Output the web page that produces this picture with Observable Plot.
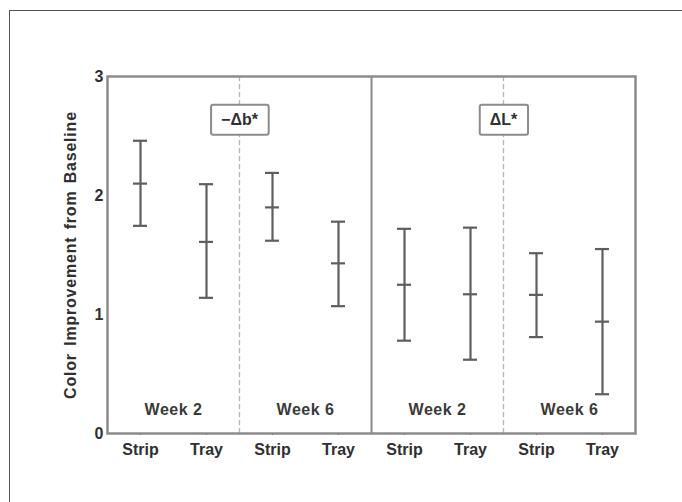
<!DOCTYPE html>
<html>
<head>
<meta charset="utf-8">
<script src="https://cdn.jsdelivr.net/npm/d3@7"></script>
<script src="https://cdn.jsdelivr.net/npm/@observablehq/plot@0.6"></script>
<style>
  html, body { margin: 0; padding: 0; background: #fff; overflow: hidden; }
  #sheet { position: absolute; left: 9px; top: 10px; width: 700px; height: 520px;
           border-top: 1.5px solid #555; border-left: 1.5px solid #555; }
  #chart { position: absolute; left: 0; top: 0; }
</style>
</head>
<body>
<div id="sheet"></div>
<div id="chart"></div>
<script>
// Colour measure, time point and delivery method for each error bar
const measures   = ["−Δb*", "−Δb*", "−Δb*", "−Δb*", "ΔL*", "ΔL*", "ΔL*", "ΔL*"];
const weeks      = ["Week 2", "Week 2", "Week 6", "Week 6", "Week 2", "Week 2", "Week 6", "Week 6"];
const treatments = ["Strip", "Tray", "Strip", "Tray", "Strip", "Tray", "Strip", "Tray"];

// Mean improvement and the interval limits
const means = [2.10, 1.61, 1.90, 1.43, 1.25, 1.17, 1.165, 0.94];
const lower = [1.745, 1.14, 1.62, 1.07, 0.78, 0.62, 0.81, 0.33];
const upper = [2.46, 2.095, 2.19, 1.78, 1.72, 1.73, 1.515, 1.55];

const yTicks = [0, 1, 2, 3];
const yLabel = "Color Improvement from Baseline";

// One slot per bar along x
const rows = treatments.map((t, i) => ({
  pos: i + 0.5, treatment: t, week: weeks[i], measure: measures[i],
  mean: means[i], lower: lower[i], upper: upper[i]
}));

// Consecutive (measure, week) groups
const groups = [];
rows.forEach((r, i) => {
  const g = groups[groups.length - 1];
  if (g && g.measure === r.measure && g.week === r.week) g.end = i + 1;
  else groups.push({measure: r.measure, week: r.week, start: i, end: i + 1});
});
groups.forEach(g => g.center = (g.start + g.end) / 2);

// Dividers between groups: dashed between weeks, solid between measures
const dividers = groups.slice(1).map((g, k) => ({
  pos: g.start, solid: g.measure !== groups[k].measure
}));

// Panel titles sit on the week divider inside each measure
const panels = [];
rows.forEach((r, i) => {
  const p = panels[panels.length - 1];
  if (p && p.measure === r.measure) p.end = i + 1;
  else panels.push({measure: r.measure, start: i, end: i + 1});
});
panels.forEach(p => p.split = (p.start + p.end) / 2);

const ink = "#303030";
const barColor = "#5e5e5e";
const frameColor = "#8c8c8c";

const chart = Plot.plot({
  width: 682,
  height: 502,
  marginLeft: 107,
  marginRight: 47,
  marginTop: 76,
  marginBottom: 69,
  style: {
    fontFamily: "'Liberation Sans', Arial, sans-serif",
    fontSize: "16px",
    fontWeight: "bold",
    color: ink,
    background: "transparent",
    overflow: "visible"
  },
  x: {
    domain: [0, rows.length],
    ticks: rows.map(r => r.pos),
    tickFormat: d => treatments[Math.floor(d)],
    tickSize: 2,
    tickPadding: 8,
    label: null
  },
  y: {
    domain: [0, 3],
    ticks: yTicks,
    tickFormat: d => String(d),
    tickSize: 0,
    tickPadding: 4,
    label: null
  },
  marks: [
    Plot.ruleX(dividers.filter(d => !d.solid), {
      x: "pos", stroke: "#b5b5b5", strokeWidth: 1.3, strokeDasharray: "5,3"
    }),
    Plot.ruleX(dividers.filter(d => d.solid), {
      x: "pos", stroke: frameColor, strokeWidth: 2
    }),
    Plot.frame({stroke: frameColor, strokeWidth: 2.5}),
    // interval stems
    Plot.ruleX(rows, {x: "pos", y1: "lower", y2: "upper", stroke: barColor, strokeWidth: 2.2}),
    // caps and mean marks
    Plot.ruleY(rows, {x1: "pos", x2: "pos", y: "upper", insetLeft: -7, insetRight: -7, stroke: barColor, strokeWidth: 2.2}),
    Plot.ruleY(rows, {x1: "pos", x2: "pos", y: "lower", insetLeft: -7, insetRight: -7, stroke: barColor, strokeWidth: 2.2}),
    Plot.ruleY(rows, {x1: "pos", x2: "pos", y: "mean", insetLeft: -7, insetRight: -7, stroke: barColor, strokeWidth: 2.2}),
    // week labels along the bottom of each group
    Plot.text(groups, {
      x: "center", text: "week", frameAnchor: "bottom", dy: -19,
      fill: "#3a3a3a", fontSize: 16, fontWeight: "bold"
    }),
    // panel titles
    Plot.text(panels, {
      x: "split", text: "measure", frameAnchor: "top", dy: 37.5,
      fill: ink, fontSize: 16, fontWeight: "bold"
    }),
    // y-axis title
    Plot.text([yLabel], {
      text: d => d, frameAnchor: "left", textAnchor: "middle", rotate: -90, dx: -37,
      fill: ink, fontSize: 16, fontWeight: "bold"
    })
  ]
});

document.getElementById("chart").append(chart);

// Box each panel title, with a white fill so the divider passes behind it
const titles = new Set(measures);
chart.querySelectorAll("text").forEach(t => {
  if (!titles.has(t.textContent)) return;
  const b = t.getBBox();
  const padX = 10, padY = 6.5;
  const rect = document.createElementNS("http://www.w3.org/2000/svg", "rect");
  rect.setAttribute("x", b.x - padX);
  rect.setAttribute("y", b.y - padY);
  rect.setAttribute("width", b.width + 2 * padX);
  rect.setAttribute("height", b.height + 2 * padY);
  rect.setAttribute("rx", 2);
  rect.setAttribute("fill", "#fff");
  rect.setAttribute("stroke", frameColor);
  rect.setAttribute("stroke-width", 2);
  if (t.getAttribute("transform")) rect.setAttribute("transform", t.getAttribute("transform"));
  t.parentNode.insertBefore(rect, t);
});

// Spacing for the y-axis title and the week labels
chart.querySelectorAll("text").forEach(t => {
  if (t.textContent === yLabel) { t.setAttribute("letter-spacing", "0.8"); t.setAttribute("word-spacing", "2"); }
  if (weeks.includes(t.textContent)) t.setAttribute("letter-spacing", "0.5");
});
</script>
</body>
</html>
